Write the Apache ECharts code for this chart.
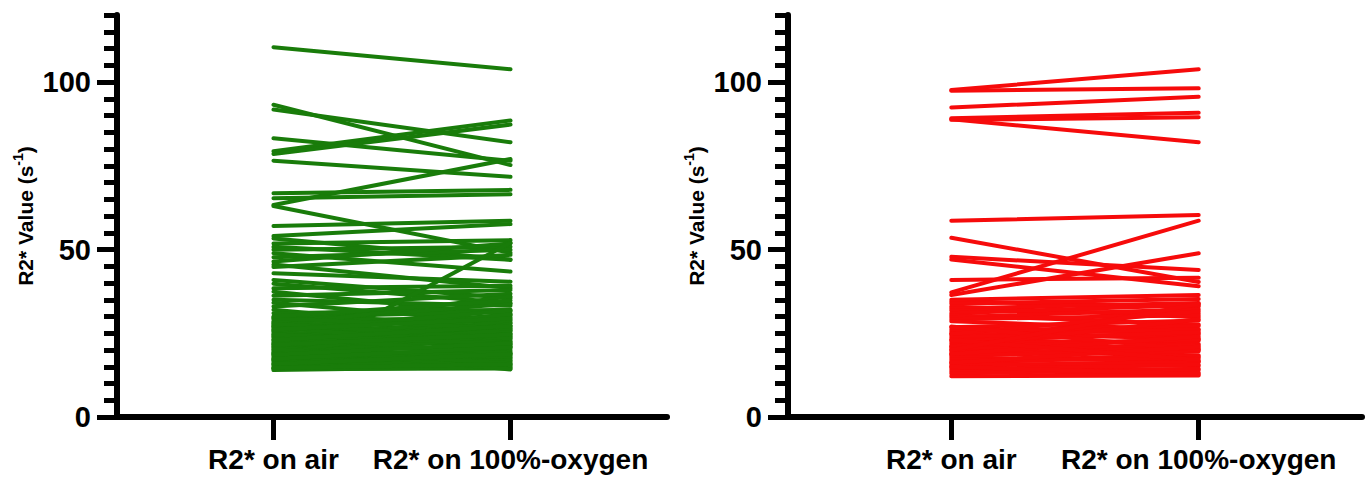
<!DOCTYPE html>
<html>
<head>
<meta charset="utf-8">
<title>R2* on air vs 100%-oxygen</title>
<script src="https://cdn.jsdelivr.net/npm/echarts@6/dist/echarts.min.js"></script>
<style>
  html, body { margin: 0; padding: 0; background: #ffffff; }
  #chart { width: 1367px; height: 479px; }
</style>
</head>
<body>
<div id="chart"></div>
<script>
// Category labels on the x axis and labelled y ticks
const categories = ['R2* on air', 'R2* on 100%-oxygen'];
const yTickValues = [0, 50, 100];

// Left panel (green): paired R2* values per subject, air vs 100% oxygen
const greenAir = [
  110.4, 93.2, 91.8, 83.2, 79.3, 78.5, 76.5, 63.3, 66.8, 65.3, 63.0,
  57.0, 54.0, 53.3, 51.8, 50.8, 49.9, 48.9, 47.7, 46.4, 45.5, 44.8, 42.9,
  40.9, 39.8, 38.4, 37.4, 36.2, 35.0, 34.1, 33.0, 32.0, 31.0, 14.5,
  29.8, 29.2, 28.6, 28.0, 27.5, 27.0, 26.4, 25.9, 25.3, 24.8, 24.3, 23.8,
  23.3, 22.8, 22.3, 21.8, 21.4, 20.9, 20.5, 20.0, 19.6, 19.2, 18.8, 18.4,
  18.0, 17.6, 17.2, 16.8, 16.4, 16.0, 15.6, 15.2, 14.8, 14.3, 14.0, 22.0,
  26.8, 19.0, 17.0, 24.0, 21.0, 28.3, 27.2, 25.6,
  29.5, 27.8, 26.1, 24.6, 23.0, 21.6, 20.2, 18.6, 17.4, 15.8, 14.6, 30.0
];
const greenOxygen = [
  103.8, 75.2, 82.0, 76.5, 88.5, 87.3, 71.7, 77.0, 67.8, 66.5, 49.0,
  58.6, 57.6, 47.0, 52.8, 46.9, 50.8, 43.4, 49.9, 51.8, 38.5, 48.4, 40.4,
  35.5, 34.0, 39.2, 30.5, 37.9, 33.2, 28.0, 36.8, 25.5, 32.0, 52.0,
  31.5, 27.0, 29.8, 24.0, 28.6, 30.3, 25.8, 27.4, 22.5, 26.6, 25.0, 28.0,
  21.6, 24.2, 23.0, 19.5, 22.4, 26.0, 20.6, 17.8, 21.2, 23.6, 18.5, 20.0,
  16.4, 19.0, 17.5, 15.6, 18.2, 14.8, 16.8, 15.4, 17.0, 14.5, 15.0, 30.8,
  21.0, 29.0, 24.8, 19.0, 14.2, 33.8, 36.0, 31.8,
  26.4, 23.4, 29.4, 21.8, 27.2, 24.6, 16.0, 22.0, 20.8, 18.8, 15.8, 34.8
];

// Right panel (red): paired R2* values per subject, air vs 100% oxygen
const redAir = [
  97.6, 97.4, 92.4, 89.2, 88.7, 88.9,
  58.6, 37.2, 53.5, 47.8, 47.0, 40.9, 36.4,
  35.0, 34.4, 33.8, 33.0, 32.4, 31.8, 31.0, 30.4, 29.8, 29.2, 28.6, 26.8,
  26.2, 25.6, 25.0, 24.4, 23.8, 23.2, 22.6, 22.0, 21.4, 20.8, 20.2, 19.6,
  19.0, 18.4, 17.8, 17.2, 16.6, 16.0, 15.4, 14.8, 14.2, 13.6, 13.0, 12.2,
  24.8, 21.0, 27.0, 18.8, 16.2, 23.0, 20.0, 15.0
];
const redOxygen = [
  103.8, 98.1, 95.6, 90.8, 89.5, 82.0,
  60.3, 58.6, 40.3, 43.9, 39.0, 41.6, 48.9,
  36.4, 33.0, 35.2, 29.8, 34.0, 31.0, 33.4, 27.6, 32.2, 30.4, 26.0, 28.8,
  25.0, 27.2, 23.4, 26.2, 24.6, 21.8, 25.4, 22.8, 20.2, 23.2, 21.4, 18.4,
  20.6, 19.6, 16.6, 18.0, 17.6, 15.2, 16.4, 14.0, 15.6, 13.2, 14.4, 12.4,
  31.6, 29.2, 20.0, 24.0, 21.0, 17.0, 33.8, 12.8
];

const FONT = "'Liberation Sans', Arial, Helvetica, sans-serif";
const AXIS_MIN = 0;
const AXIS_MAX = 120;

const panels = [
  { air: greenAir, oxygen: greenOxygen, color: '#197c0a', grid: { left: 117, top: 15, width: 550, height: 402 } },
  { air: redAir, oxygen: redOxygen, color: '#f60b0b', grid: { left: 788, top: 15, width: 574, height: 402 } }
];

const grids = [];
const xAxes = [];
const yAxes = [];
const series = [];

panels.forEach((p, i) => {
  grids.push(Object.assign({ containLabel: false }, p.grid));

  xAxes.push({
    type: 'value',
    gridIndex: i,
    min: 0.34,
    max: 2.66,
    axisLine: { show: true, onZero: false, lineStyle: { color: '#000', width: 6 } },
    axisTick: { show: true, customValues: [1, 2], length: 23, lineStyle: { color: '#000', width: 5 } },
    axisLabel: {
      customValues: [1, 2],
      formatter: v => categories[Math.round(v) - 1] || '',
      color: '#000', fontFamily: FONT, fontWeight: 'bold', fontSize: 28, margin: 28
    },
    splitLine: { show: false }
  });

  // axis line with minor ticks every 5 units
  yAxes.push({
    type: 'value',
    gridIndex: i,
    position: 'left',
    min: AXIS_MIN,
    max: AXIS_MAX,
    interval: 5,
    axisLine: { show: true, onZero: false, lineStyle: { color: '#000', width: 6 } },
    axisTick: { show: true, length: 13, lineStyle: { color: '#000', width: 5 } },
    axisLabel: { show: false },
    splitLine: { show: false }
  });

  // labelled major ticks and axis title
  yAxes.push({
    type: 'value',
    gridIndex: i,
    position: 'left',
    min: AXIS_MIN,
    max: AXIS_MAX,
    axisLine: { show: false },
    axisTick: { show: true, customValues: yTickValues, length: 20, lineStyle: { color: '#000', width: 5 } },
    axisLabel: {
      customValues: yTickValues,
      color: '#000', fontFamily: FONT, fontWeight: 'bold', fontSize: 29, margin: 26
    },
    splitLine: { show: false },
    name: '{a|R2* Value (s}{b|-1}{a|)}',
    nameLocation: 'middle',
    nameGap: 78,
    nameTextStyle: {
      rich: {
        a: { fontFamily: FONT, fontWeight: 'bold', fontSize: 21, lineHeight: 28, color: '#000' },
        b: { fontFamily: FONT, fontWeight: 'bold', fontSize: 14, lineHeight: 14, verticalAlign: 'top', color: '#000' }
      }
    }
  });

  p.air.forEach((a, k) => {
    series.push({
      type: 'line',
      xAxisIndex: i,
      yAxisIndex: i * 2,
      data: [[1, a], [2, p.oxygen[k]]],
      symbol: 'none',
      silent: true,
      animation: false,
      lineStyle: { color: p.color, width: 4, cap: 'round' }
    });
  });
});

const chart = echarts.init(document.getElementById('chart'), null, { renderer: 'svg' });
chart.setOption({
  backgroundColor: '#ffffff',
  animation: false,
  grid: grids,
  xAxis: xAxes,
  yAxis: yAxes,
  series: series
});
</script>
</body>
</html>
